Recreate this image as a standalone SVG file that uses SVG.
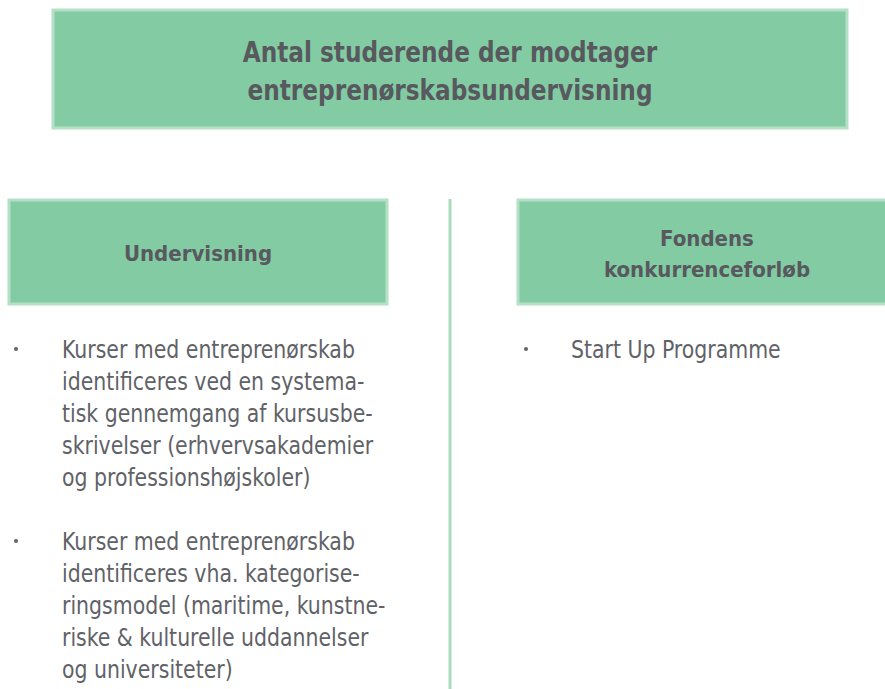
<svg xmlns="http://www.w3.org/2000/svg" width="885" height="689" viewBox="0 0 885 689">
<style>
.box{fill:#83cba3;stroke:#b3e0c6;stroke-width:3}
.hd{font-family:"DejaVu Sans Condensed","Liberation Sans",sans-serif;font-weight:bold;fill:#58595e;text-anchor:middle}
.bt{font-family:"DejaVu Sans Condensed","Liberation Sans",sans-serif;font-size:25px;fill:#5f6267}
.dot{fill:#5f6267}
</style>
<rect width="885" height="689" fill="#ffffff"/>
<g id="connectors">
<line x1="450" y1="199" x2="450" y2="689" stroke="#a9dcc0" stroke-width="3"/>
</g>
<g id="title">
<rect class="box" x="53" y="10" width="794" height="118"/>
<g transform="translate(450,0) scale(0.89,1)">
<text class="hd" font-size="29" x="0" y="62">Antal studerende der modtager</text>
<text class="hd" font-size="29" x="0" y="100">entreprenørskabsundervisning</text>
</g>
</g>
<g id="undervisning">
<rect class="box" x="9" y="200" width="378" height="104"/>
<text class="hd" font-size="22" x="198" y="261">Undervisning</text>
</g>
<g id="fondens">
<rect class="box" x="518" y="200" width="370" height="104"/>
<text class="hd" font-size="22" x="707" y="246">Fondens</text>
<text class="hd" font-size="22" x="707" y="277">konkurrenceforløb</text>
</g>
<g id="undervisning-list">
<circle class="dot" cx="16" cy="349" r="2"/>
<circle class="dot" cx="16" cy="541" r="2"/>
<g transform="translate(62,0) scale(0.91,1)">
<text class="bt" x="0" y="358">Kurser med entreprenørskab</text>
<text class="bt" x="0" y="390">identificeres ved en systema-</text>
<text class="bt" x="0" y="422">tisk gennemgang af kursusbe-</text>
<text class="bt" x="0" y="454">skrivelser (erhvervsakademier</text>
<text class="bt" x="0" y="486">og professionshøjskoler)</text>
<text class="bt" x="0" y="550">Kurser med entreprenørskab</text>
<text class="bt" x="0" y="582">identificeres vha. kategorise-</text>
<text class="bt" x="0" y="614">ringsmodel (maritime, kunstne-</text>
<text class="bt" x="0" y="646">riske &amp; kulturelle uddannelser</text>
<text class="bt" x="0" y="678">og universiteter)</text>
</g>
</g>
<g id="fondens-list">
<circle class="dot" cx="526" cy="349" r="2"/>
<g transform="translate(571,0) scale(0.91,1)">
<text class="bt" x="0" y="358">Start Up Programme</text>
</g>
</g>
</svg>
